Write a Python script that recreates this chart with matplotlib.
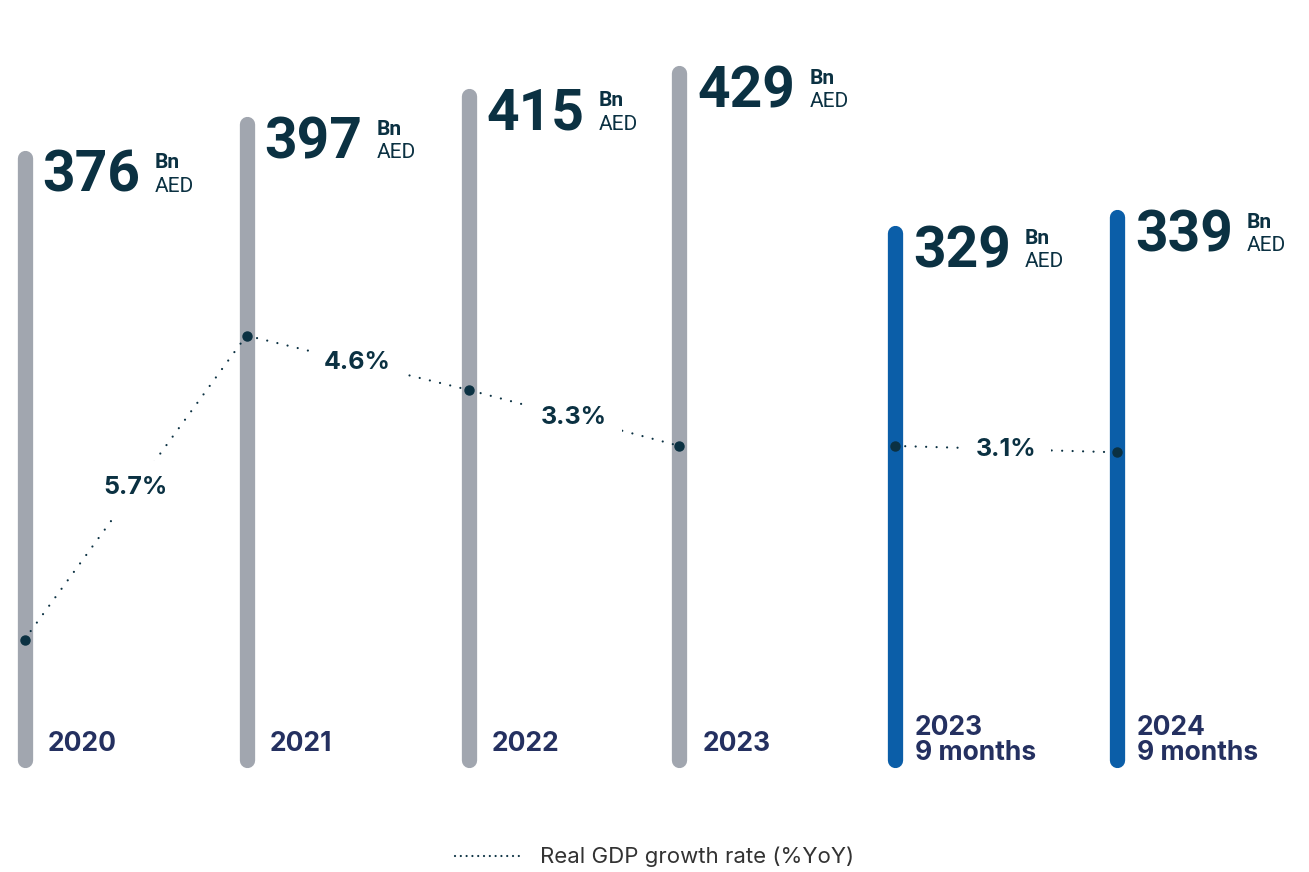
import matplotlib
matplotlib.use("Agg")
import matplotlib.pyplot as plt
from matplotlib.lines import Line2D

plt.rcParams["font.family"] = ["Roboto", "DejaVu Sans"]

# GDP, Bn AED
years = ["2020", "2021", "2022", "2023"]
gdp = [376, 397, 415, 429]
periods_9m = ["2023\n9 months", "2024\n9 months"]
gdp_9m = [329, 339]

# real GDP growth between consecutive periods (% YoY)
growth = [5.7, 4.6, 3.3]
growth_9m = [3.1]

# height of the growth-trend markers on each bar (bar units)
trend = [75, 265, 231, 196]
trend_9m = [196, 192]

# layout
X_ANNUAL = [0, 1, 2, 2.95]
X_9M = [3.92, 4.92]
GREY, BLUE = "#a1a6af", "#0b5ea8"
NAVY, INDIGO = "#0b3142", "#243060"
BAR_LW = 11
LABEL_FONT = ["Inter", "DejaVu Sans"]

fig = plt.figure(figsize=(13.09, 8.72), dpi=100)
ax = fig.add_axes([0, 0, 1, 1])
ax.set_xlim(-0.1104, 5.786)
ax.set_ylim(-70.31, 474.69)
ax.axis("off")


def draw_bar(x, value, color, label, label_dx, label_dy):
    ax.plot([x, x], [0, value], color=color, lw=BAR_LW,
            solid_capstyle="round", zorder=1)
    num = ax.annotate(f"{value}", xy=(x, value), xytext=(13, -24.5),
                      textcoords="offset points", ha="left", va="baseline",
                      fontsize=41, fontweight="bold", color=NAVY)
    ax.annotate("Bn", xy=(1, value), xycoords=(num, "data"),
                xytext=(10, -7.5), textcoords="offset points",
                ha="left", va="baseline", fontsize=15, fontweight="bold", color=NAVY)
    ax.annotate("AED", xy=(1, value), xycoords=(num, "data"),
                xytext=(10, -24.5), textcoords="offset points",
                ha="left", va="baseline", fontsize=15, color=NAVY)
    ax.annotate(label, xy=(x, 0), xytext=(label_dx, label_dy),
                textcoords="offset points", ha="left", va="baseline",
                family=LABEL_FONT, fontsize=19, fontweight="bold",
                color=INDIGO, linespacing=0.95)


for x, v, lab in zip(X_ANNUAL, gdp, years):
    draw_bar(x, v, GREY, lab, 16.5, 6)
for x, v, lab in zip(X_9M, gdp_9m, periods_9m):
    draw_bar(x, v, BLUE, lab, 14.5, 0)

dot_style = dict(color=NAVY, lw=1.6, ls=(0, (0.01, 4.7)), dash_capstyle="round",
                 marker="o", ms=6.5, zorder=2)
ax.plot(X_ANNUAL, trend, **dot_style)
ax.plot(X_9M, trend_9m, **dot_style)


def label_segments(xs, ys, rates):
    for i, r in enumerate(rates):
        xm = (xs[i] + xs[i + 1]) / 2
        ym = (ys[i] + ys[i + 1]) / 2
        ax.text(xm, ym, f"{r}%", ha="center", va="center",
                family=LABEL_FONT, fontsize=18, fontweight="bold",
                color=NAVY, zorder=3,
                bbox=dict(boxstyle="square,pad=0.6", fc="white", ec="none"))


label_segments(X_ANNUAL, trend, growth)
label_segments(X_9M, trend_9m, growth_9m)

handle = Line2D([], [], color=NAVY, lw=1.6, ls=(0, (0.01, 2.6)), dash_capstyle="round")
ax.legend([handle], ["Real GDP growth rate (%YoY)"], loc="center",
          bbox_to_anchor=(0.5, 0.017), frameon=False,
          prop=dict(family=LABEL_FONT, size=16),
          handlelength=3.05, handletextpad=0.75, labelcolor="#333333")

fig.savefig("out.png", dpi=100)
